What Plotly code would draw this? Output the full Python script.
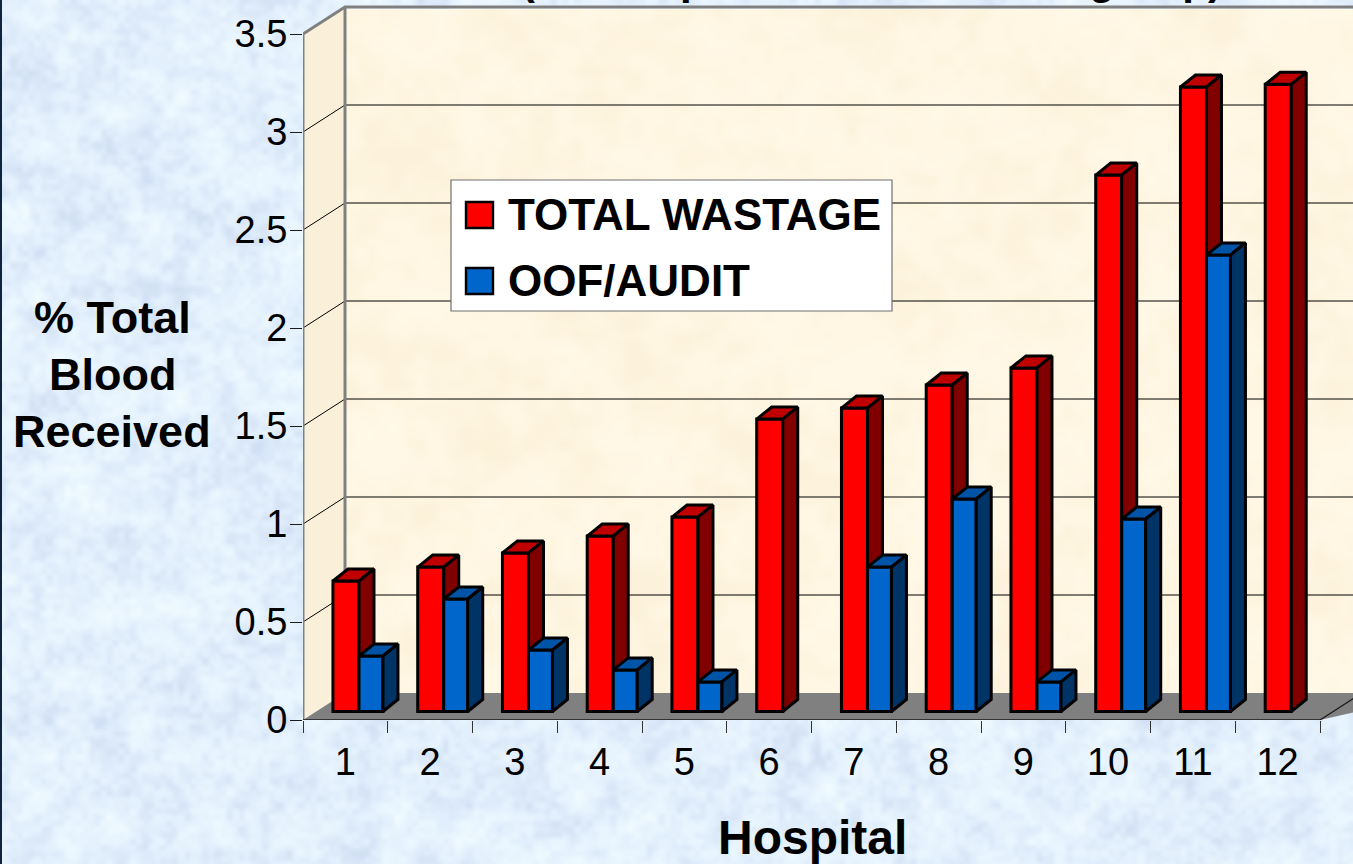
import base64, struct, zlib
import numpy as np
import plotly.graph_objects as go

# ---------- data ----------
hospitals = [1, 2, 3, 4, 5, 6, 7, 8, 9, 10, 11, 12]
total_wastage = [0.666, 0.737, 0.809, 0.895, 0.992, 1.492, 1.548, 1.666, 1.753, 2.737, 3.186, 3.200]
oof_audit = [0.283, 0.574, 0.314, 0.212, 0.151, None, 0.737, 1.084, 0.151, 0.982, 2.329, None]
y_ticks = [0, 0.5, 1, 1.5, 2, 2.5, 3, 3.5]
y_labels = ["0", "0.5", "1", "1.5", "2", "2.5", "3", "3.5"]

# ---------- layout constants ----------
W, H = 1353, 864
FONT = "Liberation Sans"
X0, Y0 = 303, 720          # pixel of the axes origin
PX_CAT, PX_UNIT = 84.75, 196.0
DX, DY = 42 / PX_CAT, 27 / PX_UNIT           # depth of the chart box
BDX, BDY = 15 / PX_CAT, 12 / PX_UNIT         # depth of a bar
BASE = 8.5 / PX_UNIT
XMIN, XMAX = 0.5, 0.5 + (W - X0) / PX_CAT
YMAX = Y0 / PX_UNIT
YTOP = 3.5
EDGE = 3


def noise(h, w, cell, phase):
    """Deterministic smooth value noise used only for the paper-like background."""
    yy, xx = np.mgrid[0:h, 0:w]
    gx, gy = xx / cell, yy / cell
    ix, iy = np.floor(gx), np.floor(gy)
    fx, fy = gx - ix, gy - iy
    fx, fy = fx * fx * (3 - 2 * fx), fy * fy * (3 - 2 * fy)

    def h2(a, b):
        v = np.sin(a * 12.9898 + b * 78.233 + phase) * 43758.5453
        return v - np.floor(v)

    top = h2(ix, iy) * (1 - fx) + h2(ix + 1, iy) * fx
    bot = h2(ix, iy + 1) * (1 - fx) + h2(ix + 1, iy + 1) * fx
    return top * (1 - fy) + bot * fy - 0.5


def png_uri(rgb):
    h, w, _ = rgb.shape
    raw = b"".join(b"\x00" + rgb[r].tobytes() for r in range(h))

    def chunk(t, d):
        return struct.pack(">I", len(d)) + t + d + struct.pack(">I", zlib.crc32(t + d) & 0xFFFFFFFF)

    data = (b"\x89PNG\r\n\x1a\n" + chunk(b"IHDR", struct.pack(">IIBBBBB", w, h, 8, 2, 0, 0, 0))
            + chunk(b"IDAT", zlib.compress(raw, 9)) + chunk(b"IEND", b""))
    return "data:image/png;base64," + base64.b64encode(data).decode()


def texture(w, h, base, light, dark, amount):
    n = noise(h, w, 12, 0.0) + 0.9 * noise(h, w, 4, 1.7) + 0.8 * noise(h, w, 2, 3.1)
    n = np.clip(n * amount, -1, 1)[..., None]
    base, light, dark = map(lambda c: np.array(c, float), (base, light, dark))
    img = np.where(n > 0, base + (light - base) * n, base + (dark - base) * (-n))
    return png_uri(img.round().astype(np.uint8))


bg_tex = texture(451, 288, (228, 241, 253), (240, 251, 255), (210, 224, 244), 1.0)
wall_tex = texture(168, 114, (255, 247, 227), (255, 249, 233), (252, 241, 217), 1.0)


def px(x):
    return x / W


def py(y):
    return 1 - y / H


fig = go.Figure()


def poly(xs, ys, fill, line=None, lw=0, z=0, name=None):
    fig.add_trace(go.Scatter(
        x=xs, y=ys, mode="lines", fill="toself", fillcolor=fill,
        line=dict(color=line or fill, width=lw), zorder=z, hoverinfo="skip",
        showlegend=False, name=name))


def path(xs, ys, color, lw, z=0):
    fig.add_trace(go.Scatter(
        x=xs, y=ys, mode="lines", line=dict(color=color, width=lw), zorder=z,
        hoverinfo="skip", showlegend=False))


# left wall and floor
poly([XMIN, XMIN + DX, XMIN + DX, XMIN, XMIN], [0, DY, YTOP + DY, YTOP, 0], "#FAF0DA")
poly([XMIN, XMIN + DX, XMAX + 1, 12.5, XMIN], [0, DY, DY, 0, 0], "#808080")

# gridlines
for v in y_ticks[1:-1]:
    path([XMIN, XMIN + DX, XMAX + 1], [v, v + DY, v + DY], "#000000", 1)

# box edges
path([XMIN, XMIN, XMIN + DX, XMAX + 1], [0, YTOP, YTOP + DY, YTOP + DY], "#808080", 3)
path([XMIN + DX, XMIN + DX], [DY, YTOP + DY], "#808080", 3)
path([12.5, 12.5 + DX], [0, DY], "#1a1a1a", 1.2)
path([XMIN, 12.5], [0, 0], "#1a1a1a", 1.6)


def add_bars(vals, name, off, wid, front, top, side, z):
    xs = [h + off for h, v in zip(hospitals, vals) if v is not None]
    ys = [v for v in vals if v is not None]
    fig.add_trace(go.Bar(x=xs, y=ys, base=BASE, width=wid, name=name, marker_color=front,
                         marker_line=dict(color="#000000", width=EDGE), zorder=z, showlegend=False))
    tx, ty, sx, sy = [], [], [], []
    for x, v in zip(xs, ys):
        l, r, b, t = x - wid / 2, x + wid / 2, BASE, BASE + v
        tx += [l, l + BDX, r + BDX, r, l, None]
        ty += [t, t + BDY, t + BDY, t, t, None]
        sx += [r, r + BDX, r + BDX, r, r, None]
        sy += [b, b + BDY, t + BDY, t, b, None]
    poly(tx, ty, top, "#000000", EDGE, z + 1)
    poly(sx, sy, side, "#000000", EDGE, z + 1)


add_bars(total_wastage, "TOTAL WASTAGE", 0.007, 0.307, "#FF0000", "#C00000", "#800000", 1)
add_bars(oof_audit, "OOF/AUDIT", 0.302, 0.283, "#0066CC", "#0054A8", "#003366", 3)

shapes = [
    # legend box and swatches
    dict(type="rect", xref="paper", yref="paper", x0=px(451), x1=px(892), y0=py(180), y1=py(311),
         fillcolor="#FFFFFF", line=dict(color="#707070", width=1.2)),
    dict(type="rect", xref="paper", yref="paper", x0=px(466), x1=px(493), y0=py(202), y1=py(228),
         fillcolor="#FF0000", line=dict(color="#000000", width=2.4)),
    dict(type="rect", xref="paper", yref="paper", x0=px(466), x1=px(493), y0=py(268), y1=py(294),
         fillcolor="#0066CC", line=dict(color="#000000", width=2.4)),
    # dark edge of the slide
    dict(type="line", xref="paper", yref="paper", x0=px(1), x1=px(1), y0=0, y1=1,
         line=dict(color="#10243f", width=2)),
]


def text(s, x, y, size, bold=True, xanchor="center", yanchor="middle"):
    return dict(text=f"<b>{s}</b>" if bold else s, xref="paper", yref="paper", x=px(x), y=py(y),
                xanchor=xanchor, yanchor=yanchor, showarrow=False,
                font=dict(family=FONT, size=size, color="#000000"))


annotations = [
    text("TOTAL WASTAGE", 506, 215, 44, xanchor="left"),
    text("OOF/AUDIT", 506, 281, 44, xanchor="left"),
    text("% Total", 112, 317, 45),
    text("Blood", 112, 374, 45),
    text("Received", 112, 431, 45),
    text("Hospital", 813, 837, 48),
    # only the descenders of the cropped chart title reach into the picture
    text("(", 528, 5.5, 42, yanchor="bottom"),
    text("p", 693, 5.5, 42, yanchor="bottom"),
    text("group)", 1224, 5.5, 42, xanchor="right", yanchor="bottom"),
]

fig.update_layout(
    width=W, height=H, autosize=False,
    margin=dict(l=0, r=0, t=0, b=0, pad=0),
    paper_bgcolor="#E4F1FD", plot_bgcolor="rgba(0,0,0,0)",
    barmode="overlay", showlegend=False,
    font=dict(family=FONT, color="#000000"),
    shapes=shapes, annotations=annotations,
    images=[
        dict(source=bg_tex, xref="paper", yref="paper", x=0, y=1, sizex=1, sizey=1,
             sizing="stretch", layer="below", xanchor="left", yanchor="top"),
        dict(source=wall_tex, xref="paper", yref="paper", x=px(345), y=py(9), sizex=px(W - 345),
             sizey=(693 - 9) / H, sizing="stretch", layer="below", xanchor="left", yanchor="top"),
    ],
    xaxis=dict(
        domain=[X0 / W, 1], range=[XMIN, XMAX], tickmode="array", tickvals=hospitals,
        ticktext=[str(h) for h in hospitals], ticks="", showgrid=False, zeroline=False,
        showline=False, automargin=False, tickfont=dict(family=FONT, size=38, color="#000000"),
        ticklabelstandoff=16,
        minor=dict(tickmode="array", tickvals=[h - 0.5 for h in hospitals] + [12.5],
                   ticks="outside", ticklen=12, tickwidth=1.4, tickcolor="#333333", showgrid=False),
    ),
    yaxis=dict(
        domain=[1 - Y0 / H, 1], range=[0, YMAX], tickmode="array", tickvals=y_ticks,
        ticktext=y_labels, ticks="outside", ticklen=12, tickwidth=1.4, tickcolor="#1a1a1a",
        showgrid=False, zeroline=False, showline=False, automargin=False,
        ticklabelstandoff=-5,
        tickfont=dict(family=FONT, size=38, color="#000000"),
    ),
)

fig.write_html(
    "out.html",
    config={"displayModeBar": False},
    post_script="document.documentElement.style.margin='0';document.body.style.margin='0';"
                "document.body.style.overflow='hidden';",
)
